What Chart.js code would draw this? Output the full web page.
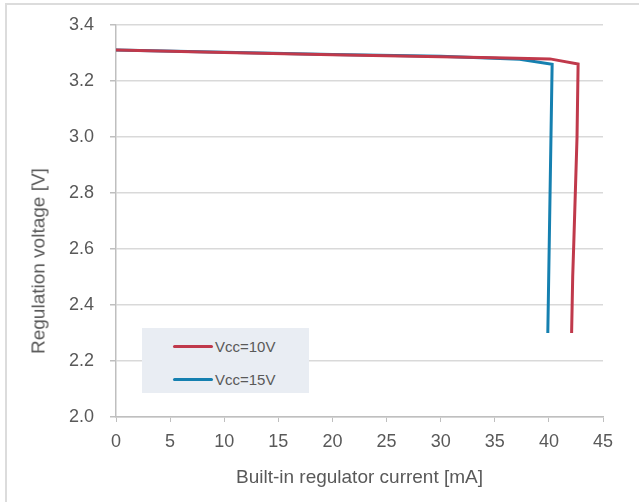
<!DOCTYPE html>
<html lang="en">
<head>
  <meta charset="UTF-8" />
  <title>Regulation voltage vs regulator current</title>
  <style>
    * { box-sizing: border-box; margin: 0; padding: 0; }
    body {
      background: #fff;
      width: 639px;
      height: 502px;
      overflow: hidden;
      font-family: 'Liberation Sans', Arial, sans-serif;
    }
    .frame {
      position: absolute;
      left: 5px;
      top: 3px;
      width: 700px;
      height: 600px;
      border-left: 2px solid #dcdcdc;
      border-top: 2px solid #dcdcdc;
    }
    #wrap {
      position: absolute;
      left: 0;
      top: 0;
      width: 639px;
      height: 502px;
    }
    .ytitle {
      position: absolute;
      left: 38px;
      top: 261px;
      transform: translate(-50%, -50%) rotate(-90deg);
      white-space: nowrap;
      color: #595959;
      font-size: 19px;
      line-height: 1;
    }
    .legend {
      position: absolute;
      left: 142px;
      top: 328px;
      width: 167px;
      height: 65px;
      background: #e9edf3;
      padding: 5px 0 0 31px;
    }
    .legend .item {
      display: flex;
      align-items: center;
      height: 27px;
      margin-bottom: 6px;
      color: #595959;
      font-size: 15px;
    }
    .legend .swatch {
      width: 40px;
      height: 3px;
      border-radius: 2px;
      margin-right: 2px;
    }
  </style>
</head>
<body>
  <div class="frame"></div>
  <div id="wrap"><canvas id="chart"></canvas></div>
  <div class="ytitle">Regulation voltage [V]</div>
  <div class="legend" id="legend"></div>

  <script src="https://cdn.jsdelivr.net/npm/chart.js"></script>
  <script>
const seriesNames = ['Vcc=10V', 'Vcc=15V'];
const colors = ['#c0394b', '#1580b0'];

// current [mA]
const current10 = [0, 10, 20, 30, 35, 40.1, 42.7, 42.6, 42.3, 42.2, 42.1];
// voltage [V]
const voltage10 = [3.311, 3.302, 3.294, 3.287, 3.283, 3.279, 3.261, 3.0, 2.62, 2.5, 2.3];

const current15 = [0, 10, 20, 30, 37.3, 40.3, 39.9];
const voltage15 = [3.311, 3.303, 3.295, 3.288, 3.278, 3.26, 2.3];

const xTicks = [0, 5, 10, 15, 20, 25, 30, 35, 40, 45];
const yTicks = [2.0, 2.2, 2.4, 2.6, 2.8, 3.0, 3.2, 3.4];

const toPoints = (xs, ys) => xs.map((x, i) => ({ x, y: ys[i] }));

const gray = '#595959';
const lineGray = '#d9d9d9';

const chart = new Chart(document.getElementById('chart'), {
  type: 'scatter',
  data: {
    datasets: [
      {
        label: seriesNames[0],
        data: toPoints(current10, voltage10),
        showLine: true,
        borderColor: colors[0],
        borderWidth: 3,
        pointRadius: 0,
        tension: 0
      },
      {
        label: seriesNames[1],
        data: toPoints(current15, voltage15),
        showLine: true,
        borderColor: colors[1],
        borderWidth: 3,
        pointRadius: 0,
        tension: 0
      }
    ]
  },
  options: {
    responsive: true,
    maintainAspectRatio: false,
    animation: false,
    layout: { padding: { left: 25, right: 36, top: 25, bottom: 9 } },
    plugins: {
      legend: { display: false },
      tooltip: { enabled: false }
    },
    scales: {
      x: {
        type: 'linear',
        min: 0,
        max: 45,
        afterBuildTicks: s => { s.ticks = xTicks.map(v => ({ value: v })); },
        afterFit: s => { s.height = 76; s.paddingLeft = 0; s.paddingRight = 0; },
        ticks: { color: gray, font: { size: 18 }, padding: 9 },
        grid: { drawOnChartArea: false, drawTicks: true, tickLength: 5, color: '#bfbfbf' },
        border: { color: '#bfbfbf', width: 1.5 },
        title: {
          display: true,
          text: 'Built-in regulator current [mA]',
          color: gray,
          font: { size: 19 }
        }
      },
      y: {
        type: 'linear',
        min: 2.0,
        max: 3.4,
        afterBuildTicks: s => { s.ticks = yTicks.map(v => ({ value: v })); },
        afterFit: s => { s.width = 91; s.paddingTop = 0; s.paddingBottom = 0; },
        ticks: {
          color: gray,
          font: { size: 18 },
          padding: 16,
          callback: v => v.toFixed(1)
        },
        grid: { color: lineGray, lineWidth: 1.5, tickLength: 6, tickColor: '#bfbfbf' },
        border: { color: '#bfbfbf', width: 1.5 }
      }
    }
  }
});

// legend box built from the datasets
const legend = document.getElementById('legend');
chart.data.datasets.forEach(ds => {
  const item = document.createElement('div');
  item.className = 'item';
  item.innerHTML = `<span class="swatch" style="background:${ds.borderColor}"></span><span>${ds.label}</span>`;
  legend.appendChild(item);
});
  </script>
</body>
</html>
